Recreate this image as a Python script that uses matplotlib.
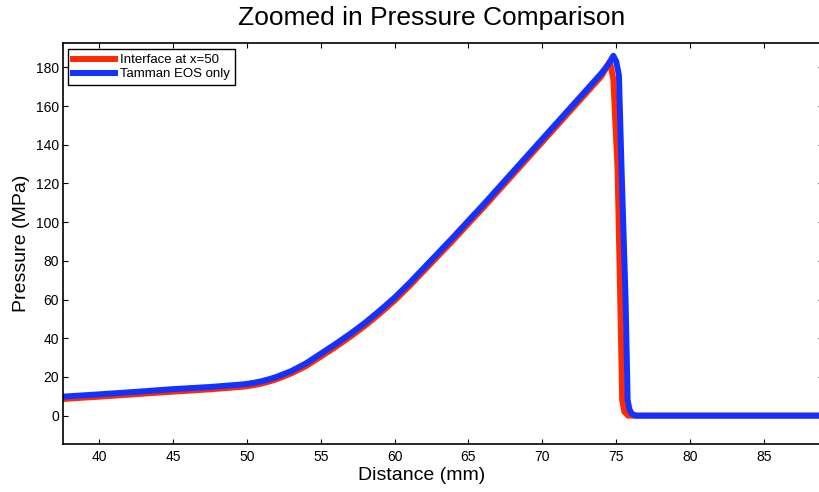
import numpy as np
import matplotlib
matplotlib.use('Agg')
import matplotlib.pyplot as plt

# pressure profiles along the tube (distance in mm, pressure in MPa)
x_iface = [37.5, 40, 42.5, 45, 47.5, 48.5, 49.5, 50, 50.5, 51, 51.5, 52, 53, 54, 55, 56,
           57, 58, 59, 60, 61, 62, 63, 64, 65, 66, 67, 68, 69, 70, 71, 72, 73, 74, 74.57,
           74.8, 75.09, 75.27, 75.4, 75.55, 75.8, 89]
p_iface = [8.6, 9.8, 11.1, 12.4, 13.6, 14.2, 14.8, 15.2, 15.8, 16.6, 17.6, 18.8, 21.8,
           25.6, 30.5, 35.5, 40.8, 46.5, 52.8, 59.5, 67.0, 75.0, 83.0, 91.0, 99.3, 107.5,
           116.0, 124.5, 133.0, 141.5, 150.0, 158.5, 167.0, 175.5, 183.0,
           174.0, 127.0, 60.0, 8.0, 2.0, 0.0, 0.0]

x_tamman = [37.5, 40, 42.5, 45, 47.5, 48.5, 49.5, 50, 50.5, 51, 51.5, 52, 53, 54, 55, 56,
            57, 58, 59, 60, 61, 62, 63, 64, 65, 66, 67, 68, 69, 70, 71, 72, 73, 74, 74.5,
            74.8, 75.0, 75.18, 75.36, 75.63, 75.77, 75.9, 76.05, 76.3, 89]
p_tamman = [9.8, 11.0, 12.3, 13.7, 14.8, 15.4, 16.0, 16.4, 17.0, 17.8, 18.8, 20.0, 23.0,
            27.0, 32.0, 37.0, 42.3, 48.0, 54.3, 61.0, 68.5, 76.5, 84.5, 92.5, 100.8, 109.0,
            117.5, 126.0, 134.5, 143.0, 151.5, 160.0, 168.5, 177.0, 182.0,
            186.0, 183.0, 176.0, 127.0, 60.0, 8.0, 3.0, 1.0, 0.0, 0.0]

xticks = [40, 45, 50, 55, 60, 65, 70, 75, 80, 85]
yticks = [0, 20, 40, 60, 80, 100, 120, 140, 160, 180]

plt.rcParams['font.family'] = ['Liberation Sans', 'DejaVu Sans']

fig = plt.figure(figsize=(8.2, 4.92), dpi=100)
# axes runs a few pixels past the right edge of the figure
ax = fig.add_axes([63.3/820, 48.5/492, 759.7/820, 400.5/492])

ax.plot(x_iface, p_iface, color='#ff2a00', lw=4.3, label='Interface at x=50', solid_joinstyle='round')
ax.plot(x_tamman, p_tamman, color='#1432ff', lw=4.3, label='Tamman EOS only', solid_joinstyle='round')

ax.set_xlim(37.58, 88.99)
ax.set_ylim(-14.4, 192.6)
ax.set_xticks(xticks)
ax.set_yticks(yticks)
ax.tick_params(direction='in', top=True, right=True, length=3.5, width=0.8,
               labelsize=10, colors='black')
ax.tick_params(axis='x', pad=5)
ax.tick_params(axis='y', pad=3)
for s in ax.spines.values():
    s.set_linewidth(1.2)

ax.set_title('Zoomed in Pressure Comparison', fontsize=19, x=(432-63.3)/759.7, pad=13)
ax.set_xlabel('Distance (mm)', fontsize=14)
ax.set_ylabel('Pressure (MPa)', fontsize=14)
ax.xaxis.set_label_coords((422-63.3)/759.7, -0.058)
ax.yaxis.set_label_coords(-0.044, 0.5)

leg = ax.legend(loc='upper left', bbox_to_anchor=(5/759.7, 1-6.3/400.5), borderaxespad=0,
                fontsize=9.5, handlelength=3.2, handletextpad=0.4, labelspacing=0.15,
                borderpad=0.35, fancybox=False, framealpha=1, edgecolor='black')
leg.get_frame().set_linewidth(1.0)
for h in leg.get_lines():
    h.set_linewidth(4.3)

fig.savefig('out.png', dpi=100)
